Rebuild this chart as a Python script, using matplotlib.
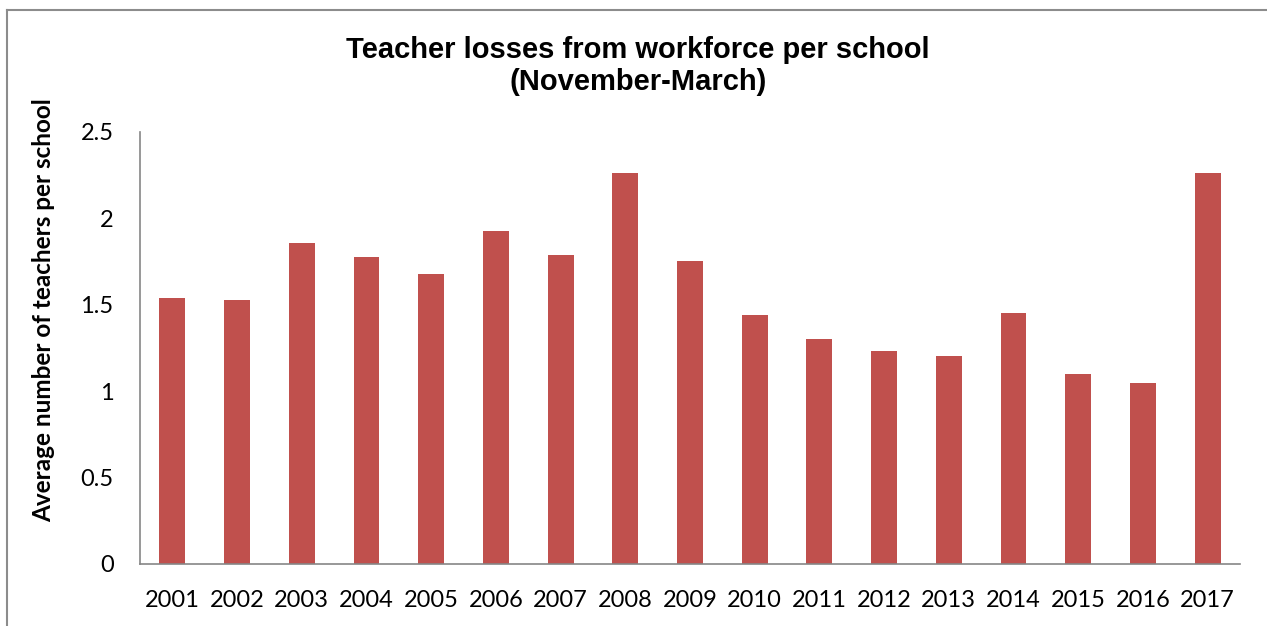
import matplotlib.pyplot as plt
from matplotlib.lines import Line2D

years = ['2001', '2002', '2003', '2004', '2005', '2006', '2007', '2008', '2009',
         '2010', '2011', '2012', '2013', '2014', '2015', '2016', '2017']
losses = [1.54, 1.525, 1.855, 1.775, 1.68, 1.925, 1.79, 2.265, 1.755,
          1.44, 1.30, 1.23, 1.205, 1.45, 1.10, 1.05, 2.26]

fig = plt.figure(figsize=(12.67, 6.26), dpi=100)
ax = fig.add_axes([140/1267, 1-564/626, 1100/1267, 432/626])

ax.bar(range(len(years)), losses, width=0.4, color='#C0504D')
ax.set_xlim(-0.5, len(years)-0.5)
ax.set_ylim(0, 2.5)
ax.set_yticks([0, 0.5, 1, 1.5, 2, 2.5])
ax.set_yticklabels(['0', '0.5', '1', '1.5', '2', '2.5'])
ax.set_xticks(range(len(years)))
ax.set_xticklabels(years)

for s in ['top', 'right']:
    ax.spines[s].set_visible(False)
for s in ['left', 'bottom']:
    ax.spines[s].set_color('#868686')
    ax.spines[s].set_linewidth(1.2)
ax.tick_params(length=0, labelsize=17)
ax.tick_params(axis='x', pad=19)
ax.tick_params(axis='y', pad=19)
for lab in ax.get_xticklabels() + ax.get_yticklabels():
    lab.set_family('Lato')

fig.text(44/1267, 1-310/626, 'Average number of teachers per school', rotation=90,
         ha='center', va='center', fontsize=17.5, fontweight='bold', family='Lato')
fig.text(638/1267, 1-66/626, 'Teacher losses from workforce per school\n(November-March)',
         ha='center', va='center', fontsize=21, fontweight='bold',
         family='Liberation Sans', linespacing=1.15)

# chart border (top and left edges visible)
fig.add_artist(Line2D([7/1267, 7/1267], [0, 1-10/626], color='#8c8c8c', lw=1.5))
fig.add_artist(Line2D([7/1267, 1], [1-10/626, 1-10/626], color='#8c8c8c', lw=1.5))

fig.savefig('out.png', dpi=100)
